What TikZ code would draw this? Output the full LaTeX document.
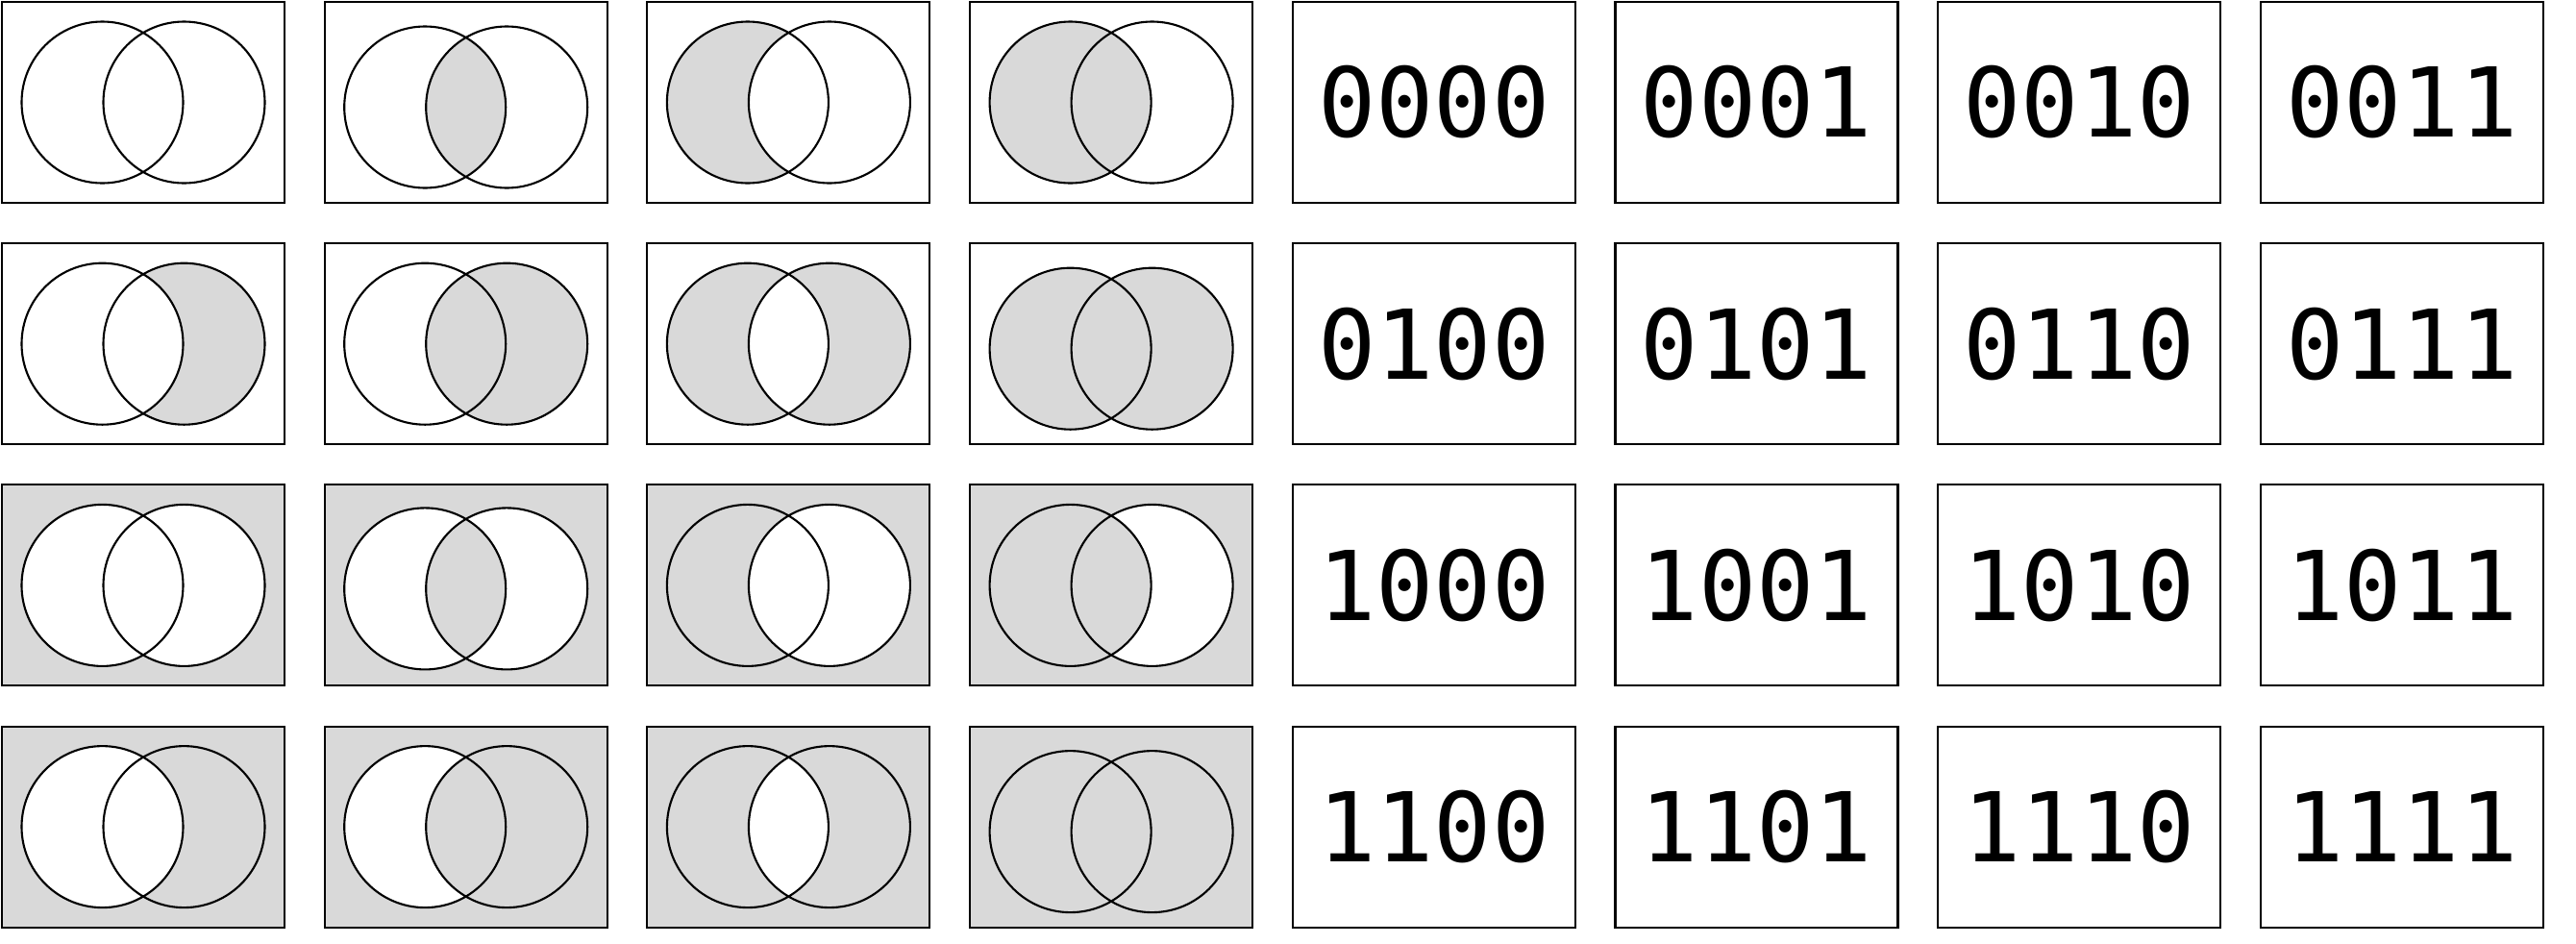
\documentclass[tikz,border=0pt]{standalone}
\usepackage{fontspec}
\newfontfamily\codefont[RawFeature=+zero]{DejaVu Sans Mono}
\usetikzlibrary{calc}
\definecolor{venngray}{RGB}{217,217,217}

\tikzset{
  cell/.style={draw, line width=0.6pt, minimum width=2.94cm, minimum height=2.09cm,
    inner sep=0pt, outer sep=0pt},
  ring/.style={line width=0.6pt},
  codetext/.style={font=\codefont\fontsize{28.5}{30}\selectfont}
}

\begin{document}
\begin{tikzpicture}
  \useasboundingbox (0,0) rectangle (26.8,-9.81);
  % one venn diagram and its code per entry, \dy nudges the circles
  \foreach \n/\dy in {0/0,1/-0.05,2/0,3/0,4/0,5/0,6/0,7/-0.05,
                      8/0,9/-0.035,10/0,11/0,12/0,13/0,14/0,15/-0.05}{
    \pgfmathtruncatemacro\r{floor(\n/4)}
    \pgfmathtruncatemacro\c{mod(\n,4)}
    \pgfmathtruncatemacro\bA{mod(\n,2)}
    \pgfmathtruncatemacro\bB{mod(floor(\n/2),2)}
    \pgfmathtruncatemacro\bC{mod(floor(\n/4),2)}
    \pgfmathtruncatemacro\bD{floor(\n/8)}
    \pgfmathsetmacro\x{1.49+3.357*\c}
    \pgfmathsetmacro\y{-1.065-2.512*\r}
    \ifnum\bD=1 \def\colO{venngray}\else\def\colO{white}\fi
    \ifnum\bB=1 \def\colL{venngray}\else\def\colL{white}\fi
    \ifnum\bC=1 \def\colR{venngray}\else\def\colR{white}\fi
    \ifnum\bA=1 \def\colM{venngray}\else\def\colM{white}\fi
    \node[cell, fill=\colO] (venn\n) at (\x,\y) {};
    \coordinate (l\n) at ($(venn\n)+(-0.425,\dy)$);
    \coordinate (r\n) at ($(venn\n)+(0.425,\dy)$);
    \fill[fill=\colL] (l\n) circle (0.84);
    \fill[fill=\colR] (r\n) circle (0.84);
    \begin{scope}
      \clip (l\n) circle (0.84);
      \fill[fill=\colM] (r\n) circle (0.84);
    \end{scope}
    \draw[ring] (l\n) circle (0.84) (r\n) circle (0.84);
    % matching code on the right half
    \node[cell, codetext] (code\n) at (\x+13.428,\y) {\bD\bC\bB\bA};
  }
\end{tikzpicture}
\end{document}
